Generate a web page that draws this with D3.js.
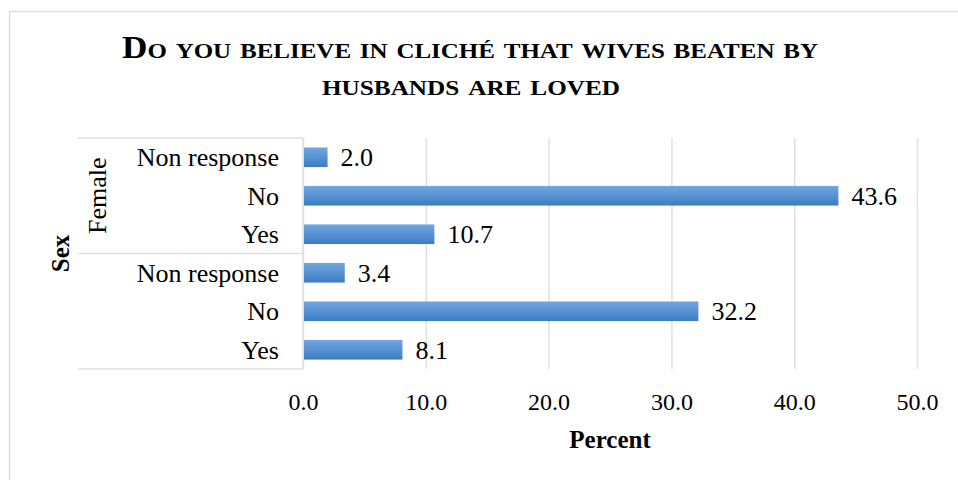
<!DOCTYPE html>
<html><head><meta charset="utf-8">
<script src="https://cdn.jsdelivr.net/npm/d3@7"></script>
<style>
html,body{margin:0;padding:0;background:#fff;}
svg{display:block;font-family:"Liberation Serif","Times New Roman",serif;}
</style></head>
<body><svg id="c" width="958" height="480"></svg>
<script>
const groups = ["Female", "Male"];
const groupLabels = ["Female", ""];
const responses = ["Non response", "No", "Yes"];
const femaleValues = [2.0, 43.6, 10.7];
const maleValues = [3.4, 32.2, 8.1];
const tickValues = [0, 10, 20, 30, 40, 50];
const titleLines = ["Do you believe in cliché that wives beaten by", "husbands are loved"];
const xTitle = "Percent";
const yTitle = "Sex";

(function () {
const rows = [];
groups.forEach((g, gi) => {
  const vals = gi === 0 ? femaleValues : maleValues;
  responses.forEach((r, ri) => rows.push({key: g + "|" + r, group: g, label: r, value: vals[ri]}));
});

const svg = d3.select("#c");
const pL = 303, pR = 917, pT = 138, pB = 369;

svg.append("rect").attr("x", 9.5).attr("y", 11.5).attr("width", 960).attr("height", 480)
  .attr("fill", "none").attr("stroke", "#d9dde3").attr("stroke-width", 1.5);

const x = d3.scaleLinear().domain([0, 50]).range([pL, pR]);
const y = d3.scaleBand().domain(rows.map(d => d.key)).range([pT, pB]).paddingInner(0.49).paddingOuter(0.245);

const defs = svg.append("defs");
const grad = defs.append("linearGradient").attr("id", "bg").attr("x1", 0).attr("x2", 0).attr("y1", 0).attr("y2", 1);
grad.append("stop").attr("offset", "0%").attr("stop-color", "#72a7e0");
grad.append("stop").attr("offset", "100%").attr("stop-color", "#3b7cc6");

const xAxis = d3.axisBottom(x).tickValues(tickValues).tickFormat(d3.format(".1f")).tickSize(-(pB - pT)).tickPadding(0);
const gx = svg.append("g").attr("transform", `translate(0,${pB})`).call(xAxis);
gx.select(".domain").remove();
gx.selectAll(".tick line").attr("stroke", "#dde1e6").attr("stroke-width", 1.5);
gx.selectAll(".tick text").attr("font-size", 24).attr("fill", "#000").attr("dy", 0).attr("y", 41)
  .attr("font-family", "Liberation Serif");

const lineColor = "#dde1e6";
svg.append("line").attr("x1", x(0)).attr("x2", x(0)).attr("y1", pT).attr("y2", pB).attr("stroke", lineColor).attr("stroke-width", 1.5);
const groupBounds = [pT, (pT + pB) / 2, pB];
groupBounds.forEach(b => {
  svg.append("line").attr("x1", 78).attr("x2", x(0)).attr("y1", b).attr("y2", b).attr("stroke", lineColor).attr("stroke-width", 1.5);
});

svg.append("g").selectAll("rect").data(rows).join("rect")
  .attr("x", x(0) + 1).attr("y", d => y(d.key))
  .attr("width", d => x(d.value) - x(0) - 1).attr("height", y.bandwidth())
  .attr("fill", "url(#bg)");

svg.append("g").selectAll("text").data(rows).join("text")
  .attr("x", d => x(d.value) + 13).attr("y", d => y(d.key) + y.bandwidth() / 2).attr("dy", "0.35em")
  .attr("font-size", 26).attr("fill", "#000").text(d => d.value.toFixed(1));

svg.append("g").selectAll("text").data(rows).join("text")
  .attr("x", 279).attr("y", d => y(d.key) + y.bandwidth() / 2).attr("dy", "0.35em")
  .attr("text-anchor", "end").attr("font-size", 26).attr("fill", "#000").text(d => d.label);

groupLabels.forEach((g, gi) => {
  const cy = (groupBounds[gi] + groupBounds[gi + 1]) / 2;
  svg.append("text").attr("transform", `translate(106,${cy}) rotate(-90)`)
    .attr("text-anchor", "middle").attr("font-size", 26).attr("fill", "#000").text(g);
});

svg.append("text").attr("transform", `translate(69,${(pT + pB) / 2}) rotate(-90)`)
  .attr("text-anchor", "middle").attr("font-size", 25).attr("font-weight", "bold").attr("fill", "#000").text(yTitle);
svg.append("text").attr("x", (pL + pR) / 2).attr("y", 448).attr("text-anchor", "middle")
  .attr("font-size", 25).attr("font-weight", "bold").attr("fill", "#000").text(xTitle);

const tl = svg.append("g");
tl.append("text").attr("x", 470).attr("y", 58).attr("text-anchor", "middle")
  .attr("font-size", 31).attr("font-weight", "bold").attr("font-variant", "small-caps")
  .attr("textLength", 696).attr("lengthAdjust", "spacingAndGlyphs").text(titleLines[0]);
tl.append("text").attr("x", 471).attr("y", 95).attr("text-anchor", "middle")
  .attr("font-size", 31).attr("font-weight", "bold").attr("font-variant", "small-caps")
  .attr("textLength", 298).attr("lengthAdjust", "spacingAndGlyphs").text(titleLines[1]);
})();
</script></body></html>
